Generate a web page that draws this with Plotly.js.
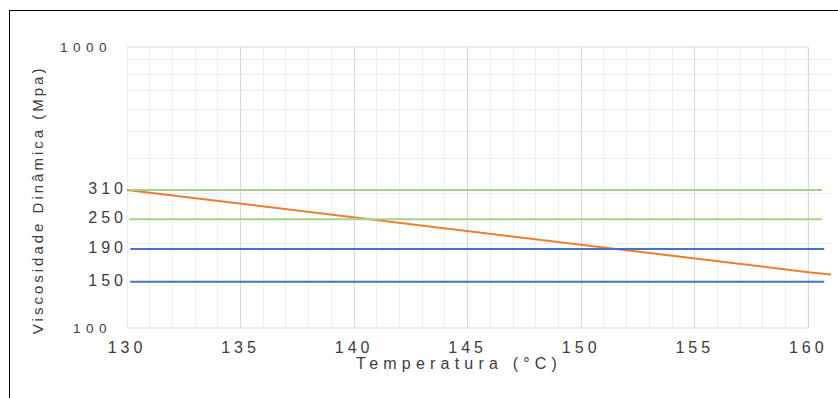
<!DOCTYPE html>
<html>
<head>
<meta charset="utf-8">
<script src="https://cdn.plot.ly/plotly-3.0.1.min.js"></script>
<style>
  html, body { margin: 0; padding: 0; background: #fff; }
  #wrap { position: relative; width: 838px; height: 398px; overflow: hidden; }
  #chart { position: absolute; left: 0; top: 0; width: 838px; height: 398px; }
  #frame { position: absolute; left: 9px; top: 10px; width: 900px; height: 500px;
           border-left: 1.5px solid #000; border-top: 1.5px solid #000; pointer-events: none; }
</style>
</head>
<body>
<div id="wrap">
  <div id="chart"></div>
  <div id="frame"></div>
</div>
<script>
// ---- data ----
const temperature = [130, 135, 140, 145, 150, 155, 160, 161];
const viscosity   = [310, 277, 247, 222, 198, 177, 158, 155];

const greenValues = [310, 244];
const greenLabels = ['310', '250'];
const greenX      = [130.1, 160.6];

const blueValues  = [191, 146];
const blueLabels  = ['190', '150'];
const blueX       = [130.15, 160.7];

const xTickVals   = [130, 135, 140, 145, 150, 155, 160];
const xTickLabels = ['130', '135', '140', '145', '150', '155', '160'];
const xMinorVals  = [131, 132, 133, 134, 136, 137, 138, 139, 141, 142, 143, 144,
                     146, 147, 148, 149, 151, 152, 153, 154, 156, 157, 158, 159];
const yTickVals   = [100, 1000];
const yTickLabels = ['100', '1000'];
const yMinorVals  = [200, 300, 400, 500, 600, 700, 800, 900];

const xTitle = 'Temperatura (°C)';
const yTitle = 'Viscosidade Dinâmica (Mpa)';

// ---- styling helpers ----
const FONT = 'Liberation Sans, Arial, sans-serif';
const TXT = '#3c3c3c';
const spaced = (s, px) => '<span style="letter-spacing:' + px + 'px">' + s + '</span>';

const traces = [];
traces.push({
  x: temperature, y: viscosity, type: 'scatter', mode: 'lines',
  line: { color: '#ed7d31', width: 2 }, hoverinfo: 'skip'
});
greenValues.forEach(v => traces.push({
  x: greenX, y: [v, v], type: 'scatter', mode: 'lines',
  line: { color: '#a9d18e', width: 2 }, hoverinfo: 'skip'
}));
blueValues.forEach(v => traces.push({
  x: blueX, y: [v, v], type: 'scatter', mode: 'lines',
  line: { color: '#4472c4', width: 2 }, hoverinfo: 'skip'
}));
const labelVals = greenValues.concat(blueValues);
const labelTxt = greenLabels.concat(blueLabels);
traces.push({
  x: labelVals.map(() => xTickVals[0]), y: labelVals, type: 'scatter', mode: 'text',
  text: labelTxt.map(t => spaced(t, 4)), textposition: 'middle left',
  textfont: { family: FONT, size: 16, color: TXT }, cliponaxis: false, hoverinfo: 'skip'
});

const layout = {
  width: 838, height: 398,
  margin: { l: 127, r: 7, t: 47, b: 70, pad: 0 },
  paper_bgcolor: '#ffffff', plot_bgcolor: '#ffffff',
  showlegend: false,
  xaxis: {
    range: [130, 161], tickmode: 'array', tickvals: xTickVals,
    ticktext: xTickLabels.map(t => spaced(t, 4)),
    tickfont: { family: FONT, size: 16, color: TXT },
    showgrid: true, gridcolor: '#d9d9d9', gridwidth: 1,
    minor: { tickmode: 'array', tickvals: xMinorVals, showgrid: true, gridcolor: '#eeeeee', gridwidth: 1, ticks: '' },
    showline: false, zeroline: false, ticks: '', ticklabelstandoff: 8, fixedrange: true
  },
  yaxis: {
    type: 'log', range: [2, 3], tickmode: 'array', tickvals: yTickVals,
    ticktext: yTickLabels.map(t => spaced(t, 5.5)),
    tickfont: { family: FONT, size: 13.5, color: TXT },
    showgrid: true, gridcolor: '#e4e4e4', gridwidth: 1,
    minor: { tickmode: 'array', tickvals: yMinorVals, showgrid: true, gridcolor: '#eeeeee', gridwidth: 1, ticks: '' },
    showline: false, zeroline: false, ticks: '', ticklabelstandoff: 14, fixedrange: true
  },
  shapes: [{
    type: 'rect', xref: 'x', yref: 'paper', x0: xTickVals[0], x1: xTickVals[xTickVals.length - 1],
    y0: 0, y1: 1, line: { color: '#d9d9d9', width: 1 }, layer: 'below'
  }],
  annotations: [
    { text: spaced(xTitle, 5.2), xref: 'paper', yref: 'paper', x: 0.4716, y: -0.1246,
      xanchor: 'center', yanchor: 'middle', showarrow: false,
      font: { family: FONT, size: 16, color: TXT } },
    { text: spaced(yTitle, 3), xref: 'paper', yref: 'paper', x: -0.1278, y: 0.455,
      xanchor: 'center', yanchor: 'middle', showarrow: false, textangle: -90,
      font: { family: FONT, size: 15, color: TXT } }
  ]
};

Plotly.newPlot('chart', traces, layout, { staticPlot: true, displayModeBar: false });
</script>
</body>
</html>
